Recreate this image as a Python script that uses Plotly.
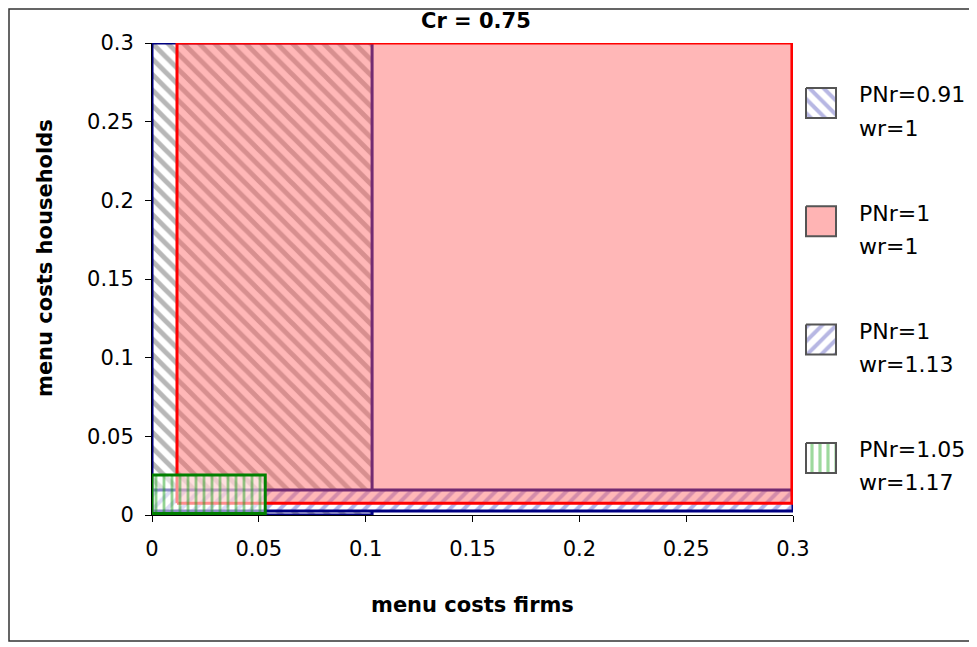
import plotly.graph_objects as go

# ---- data ----
pnr_labels = ["PNr=0.91", "PNr=1", "PNr=1", "PNr=1.05"]
wr_labels = ["wr=1", "wr=1", "wr=1.13", "wr=1.17"]
x_lo = [0.0, 0.0117, 0.0, 0.0]
x_hi = [0.103, 0.2995, 0.3, 0.053]
y_lo = [0.0, 0.0074, 0.0025, 0.001]
y_hi = [0.3, 0.3, 0.0159, 0.0254]
x_ticks = [0, 0.05, 0.1, 0.15, 0.2, 0.25, 0.3]
y_ticks = [0, 0.05, 0.1, 0.15, 0.2, 0.25, 0.3]

# ---- styles ----
styles = [
    dict(line=dict(color="#000080", width=3), fillcolor="white",
         fillpattern=dict(shape="\\", fgcolor="#707070", bgcolor="white", size=11, solidity=0.45)),
    dict(line=dict(color="#ff0000", width=3), fillcolor="rgba(255,95,95,0.45)"),
    dict(line=dict(color="#000080", width=3), fillcolor="white",
         fillpattern=dict(shape="/", fgcolor="#6464d2", bgcolor="white", size=10, solidity=0.4)),
    dict(line=dict(color="#008000", width=3), fillcolor="rgba(255,255,255,0.5)",
         fillpattern=dict(shape="|", fgcolor="rgba(0,150,0,0.85)", bgcolor="rgba(255,255,255,0.55)",
                          size=8, solidity=0.35)),
]
swatch_styles = [
    dict(fillcolor="white", fillpattern=dict(shape="\\", fgcolor="#7070c8", bgcolor="white", size=10, solidity=0.4)),
    dict(fillcolor="#ffb4b4"),
    dict(fillcolor="white", fillpattern=dict(shape="/", fgcolor="#7070c8", bgcolor="white", size=10, solidity=0.4)),
    dict(fillcolor="white", fillpattern=dict(shape="|", fgcolor="#3cb43c", bgcolor="white", size=8, solidity=0.4)),
]
draw_order = [0, 2, 1, 3]

W, H = 969, 639  # page has an 8px body margin
FONT = "DejaVu Sans, Liberation Sans, Arial, sans-serif"

fig = go.Figure()
for i in draw_order:
    xs = [x_lo[i], x_hi[i], x_hi[i], x_lo[i], x_lo[i]]
    ys = [y_lo[i], y_lo[i], y_hi[i], y_hi[i], y_lo[i]]
    fig.add_trace(go.Scatter(x=xs, y=ys, mode="lines", fill="toself", showlegend=False,
                             hoverinfo="skip", **styles[i]))

# ---- custom legend (swatches in a pixel-space helper axis) ----
leg_x0, sw = 798, 30
leg_c0, leg_step = 95, 118.3
annotations = []
for i in range(4):
    c = leg_c0 + i * leg_step
    fig.add_trace(go.Scatter(
        x=[leg_x0, leg_x0 + sw, leg_x0 + sw, leg_x0, leg_x0],
        y=[c - sw / 2, c - sw / 2, c + sw / 2, c + sw / 2, c - sw / 2],
        xaxis="x2", yaxis="y2", mode="lines", fill="toself", showlegend=False, hoverinfo="skip",
        line=dict(color="#555555", width=2), **swatch_styles[i]))
    annotations.append(dict(text=pnr_labels[i], x=849 / W, y=1 - (c - 8) / H, xref="paper", yref="paper",
                            xanchor="left", yanchor="middle", showarrow=False,
                            font=dict(family=FONT, size=22, color="black")))
    annotations.append(dict(text=wr_labels[i], x=849 / W, y=1 - (c + 25) / H, xref="paper", yref="paper",
                            xanchor="left", yanchor="middle", showarrow=False,
                            font=dict(family=FONT, size=22, color="black")))

annotations += [
    dict(text="<b>Cr = 0.75</b>", x=468 / W, y=1 - 13 / H, xref="paper", yref="paper",
         xanchor="center", yanchor="middle", showarrow=False, font=dict(family=FONT, size=21)),
    dict(text="<b>menu costs firms</b>", x=464 / W, y=1 - 597 / H, xref="paper", yref="paper",
         xanchor="center", yanchor="middle", showarrow=False, font=dict(family=FONT, size=21)),
    dict(text="<b>menu costs households</b>", x=37 / W, y=1 - 250 / H, xref="paper", yref="paper",
         xanchor="center", yanchor="middle", showarrow=False, textangle=-90,
         font=dict(family=FONT, size=21)),
]

fig.update_layout(
    width=W, height=H,
    margin=dict(l=0, r=0, t=0, b=0, pad=0, autoexpand=False),
    paper_bgcolor="white", plot_bgcolor="rgba(0,0,0,0)",
    font=dict(family=FONT, size=21, color="black"),
    showlegend=False,
    xaxis=dict(domain=[144 / W, 785 / W], range=[0, 0.3], tickvals=x_ticks,
               ticktext=[f"{v:g}" for v in x_ticks], automargin=False,
               showgrid=False, zeroline=False, showline=True, linecolor="black", linewidth=1,
               ticks="outside", ticklen=6, tickcolor="black", ticklabelstandoff=9,
               tickfont=dict(family=FONT, size=21)),
    yaxis=dict(domain=[1 - 507 / H, 1 - 35 / H], range=[0, 0.3], tickvals=y_ticks,
               ticktext=[f"{v:g}" for v in y_ticks], automargin=False,
               showgrid=False, zeroline=False, showline=True, linecolor="black", linewidth=1,
               ticks="outside", ticklen=6, tickcolor="black", ticklabelstandoff=7,
               tickfont=dict(family=FONT, size=21)),
    xaxis2=dict(domain=[792 / W, 1], range=[792, W], visible=False, fixedrange=True, automargin=False),
    yaxis2=dict(domain=[0, 1], range=[H, 0], visible=False, fixedrange=True, anchor="x2", automargin=False),
    annotations=annotations,
    shapes=[dict(type="rect", xref="paper", yref="paper",
                 x0=1 / W, x1=962 / W, y0=1 - 633 / H, y1=1 - 1 / H,
                 line=dict(color="#333333", width=1.5), fillcolor="rgba(0,0,0,0)", layer="below")],
)

fig.write_html("out.html")
